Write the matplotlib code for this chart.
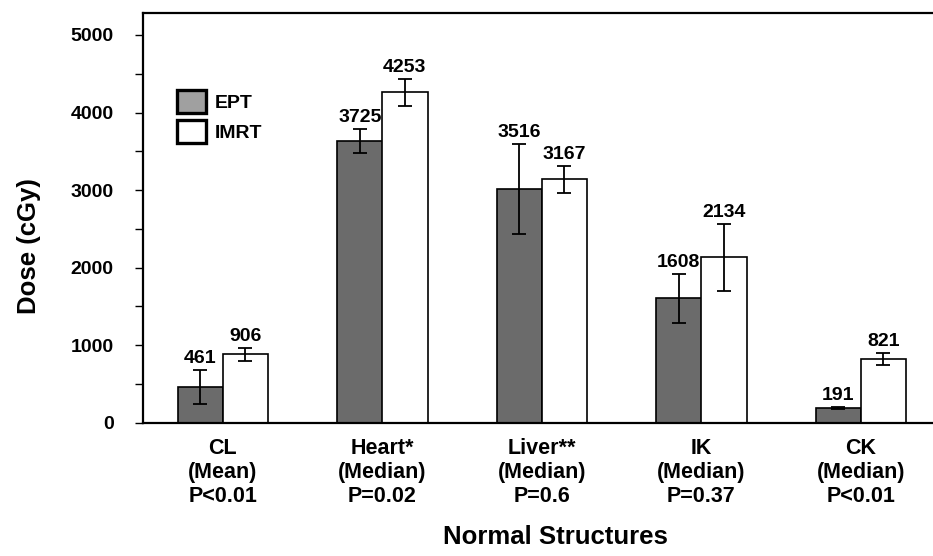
import matplotlib
matplotlib.use("Agg")
import matplotlib.pyplot as plt
from matplotlib.patches import Patch
from matplotlib.ticker import MultipleLocator
import numpy as np

plt.rcParams['font.family'] = ['Liberation Sans', 'DejaVu Sans']
plt.rcParams['font.weight'] = 'bold'

# data
structures = ["CL\n(Mean)\nP<0.01", "Heart*\n(Median)\nP=0.02", "Liver**\n(Median)\nP=0.6",
              "IK\n(Median)\nP=0.37", "CK\n(Median)\nP<0.01"]
ept_dose = [456, 3630, 3016, 1603, 193]
ept_err = [220, 153, 584, 320, 15]
imrt_dose = [880, 4260, 3140, 2131, 821]
imrt_err = [90, 175, 174, 428, 79]
ept_labels = ["461", "3725", "3516", "1608", "191"]
imrt_labels = ["906", "4253", "3167", "2134", "821"]

fig = plt.figure(figsize=(9.33, 5.56), dpi=100)
ax = fig.add_axes([0.1533, 0.2397, 0.8548, 0.7378])

x = np.arange(len(structures))
w = 0.285
off = 0.141

ekw = dict(ecolor='black', elinewidth=1.3, capsize=5, capthick=1.3)
ax.bar(x - off, ept_dose, w, yerr=ept_err, color='#6b6b6b', edgecolor='black',
       linewidth=1.2, error_kw=ekw)
ax.bar(x + off, imrt_dose, w, yerr=imrt_err, color='white', edgecolor='black',
       linewidth=1.2, error_kw=ekw)

for xi, v, e, t in zip(x - off, ept_dose, ept_err, ept_labels):
    ax.annotate(t, (xi, v + e), xytext=(0, 5), textcoords='offset points',
                ha='center', va='baseline', fontsize=14, fontweight='bold')
for xi, v, e, t in zip(x + off, imrt_dose, imrt_err, imrt_labels):
    ax.annotate(t, (xi, v + e), xytext=(0, 5), textcoords='offset points',
                ha='center', va='baseline', fontsize=14, fontweight='bold')

ax.set_xlim(-0.5, 4.5)
ax.set_ylim(0, 5290)
ax.yaxis.set_major_locator(MultipleLocator(1000))
ax.yaxis.set_minor_locator(MultipleLocator(500))
ax.tick_params(axis='y', which='both', direction='out', length=6, width=1, pad=15,
               labelsize=14)
ax.set_yticks(range(0, 5001, 1000))
ax.set_yticklabels([str(v) for v in range(0, 5001, 1000)], fontweight='bold')
ax.set_xticks(x)
ax.set_xticklabels(structures, fontsize=15.5, fontweight='bold', linespacing=1.2)
ax.tick_params(axis='x', length=0, pad=11)

for s in ax.spines.values():
    s.set_linewidth(1.6)

ax.set_ylabel("Dose (cGy)", fontsize=18.5, fontweight='bold')
ax.yaxis.set_label_coords(-0.128, 0.43)
fig.text(0.595, 0.035, "Normal Structures", ha='center', va='center',
         fontsize=18.5, fontweight='bold')

handles = [Patch(facecolor='#a0a0a0', edgecolor='black', linewidth=2.4, label='EPT'),
           Patch(facecolor='white', edgecolor='black', linewidth=2.4, label='IMRT')]
ax.legend(handles=handles, loc='upper left', bbox_to_anchor=(0.031, 0.835),
          frameon=False, borderpad=0, handlelength=1.45, handleheight=1.45,
          labelspacing=0.35, handletextpad=0.45,
          prop={'weight': 'bold', 'size': 14})

fig.savefig("out.png", dpi=100)
